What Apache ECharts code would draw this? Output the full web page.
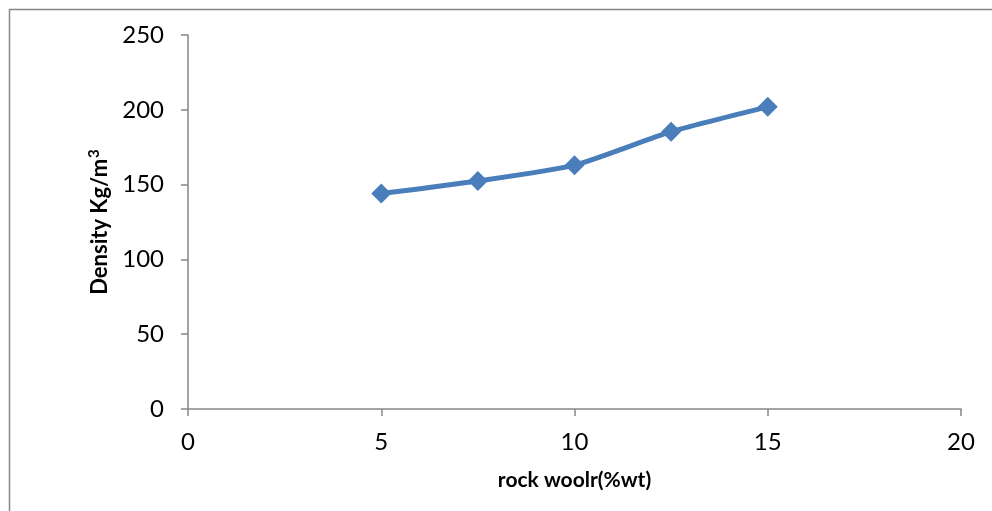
<!DOCTYPE html>
<html>
<head>
<meta charset="utf-8">
<script src="https://cdn.jsdelivr.net/npm/echarts@6/dist/echarts.min.js"></script>
<style>html,body{margin:0;padding:0;background:#fff;}#c{width:992px;height:511px;}</style>
</head>
<body>
<div id="c"></div>
<script>
const xValues = [5, 7.5, 10, 12.5, 15];
const densityValues = [144, 152.4, 163, 185.4, 202];
const xTitle = 'rock woolr(%wt)';
const yTitleMain = 'Density Kg/m';
const yTitleSup = '3';

const chart = echarts.init(document.getElementById('c'), null, {renderer: 'canvas'});
const font = 'Lato, "Open Sans", sans-serif';
chart.setOption({
  animation: false,
  backgroundColor: '#fff',
  graphic: [{
    type: 'rect', shape: {x: 9.5, y: 9.5, width: 1100, height: 700},
    style: {fill: 'none', stroke: '#878787', lineWidth: 1.5}, silent: true
  }],
  grid: {left: 188, right: 31, top: 35, bottom: 102, containLabel: false},
  xAxis: {
    type: 'value', min: 0, max: 20, interval: 5,
    name: xTitle, nameLocation: 'middle', nameGap: 61,
    nameTextStyle: {fontFamily: font, fontSize: 21, fontWeight: 'bold', color: '#000'},
    axisLine: {show: true, onZero: false, lineStyle: {color: '#868686', width: 1.5}},
    axisTick: {show: true, length: 7, lineStyle: {color: '#868686', width: 1.5}},
    axisLabel: {fontFamily: font, fontSize: 24, color: '#000', margin: 21},
    splitLine: {show: false}
  },
  yAxis: {
    type: 'value', min: 0, max: 250, interval: 50,
    name: '{m|' + yTitleMain + '}{s|' + yTitleSup + '}', nameLocation: 'middle', nameGap: 76,
    nameTextStyle: {
      fontFamily: font, fontSize: 22, fontWeight: 'bold', color: '#000',
      rich: {
        m: {fontFamily: font, fontSize: 22, fontWeight: 'bold', color: '#000'},
        s: {fontFamily: font, fontSize: 15, fontWeight: 'bold', color: '#000', verticalAlign: 'top', padding: [0, 0, 10, 1]}
      }
    },
    axisLine: {show: true, lineStyle: {color: '#868686', width: 1.5}},
    axisTick: {show: true, length: 7, lineStyle: {color: '#868686', width: 1.5}},
    axisLabel: {fontFamily: font, fontSize: 24, color: '#000', margin: 24},
    splitLine: {show: false}
  },
  series: [{
    type: 'line',
    data: xValues.map((x, i) => [x, densityValues[i]]),
    smooth: 0.2,
    symbol: 'diamond', symbolSize: 20,
    lineStyle: {color: '#4a7ebb', width: 5},
    itemStyle: {color: '#4a7ebb'}
  }]
});
</script>
</body>
</html>
